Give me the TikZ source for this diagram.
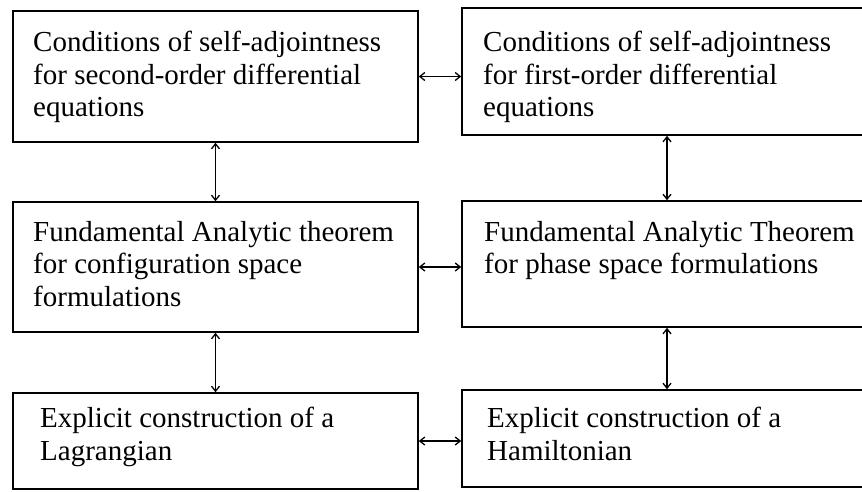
\documentclass[tikz,border=0pt]{standalone}
\usepackage{fontspec}
\setmainfont{Liberation Serif}
\usetikzlibrary{arrows.meta}

\begin{document}
\begin{tikzpicture}[x=1pt,y=-1pt,
  box/.style={draw,line width=1.6pt,inner sep=0pt},
  txt/.style={anchor=north west,inner sep=0pt,align=left,font=\fontsize{29}{32.5}\selectfont},
  link/.style={<->,line width=1.3pt,>={Straight Barb[length=5pt,width=8pt]}}]
\clip (0,0) rectangle (862,491);

% second-order / configuration space column
\node[box,minimum width=405pt,minimum height=131pt] (sa2) at (215.5,76.5) {};
\node[box,minimum width=405pt,minimum height=130pt] (fa2) at (215.5,267) {};
\node[box,minimum width=405pt,minimum height=96pt] (lag) at (215.5,441) {};

% first-order / phase space column
\node[box,minimum width=410pt,minimum height=127pt] (sa1) at (667,71.5) {};
\node[box,minimum width=410pt,minimum height=126pt] (fa1) at (667,264) {};
\node[box,minimum width=410pt,minimum height=97pt] (ham) at (667,438.5) {};

\node[txt] (sa2t) at (33,31) {Conditions of self-adjointness\\for second-order differential\\equations};
\node[txt] (sa1t) at (483,31) {Conditions of self-adjointness\\for first-order differential\\equations};
\node[txt] (fa2t) at (33,221) {Fundamental Analytic theorem\\for configuration space\\formulations};
\node[txt] (fa1t) at (484,221) {Fundamental Analytic Theorem\\for phase space formulations};
\node[txt] (lagt) at (40,407) {Explicit construction of a\\Lagrangian};
\node[txt] (hamt) at (487,407) {Explicit construction of a\\Hamiltonian};

\draw [link] (sa2.east) -- (sa2.east -| sa1.west);
\draw [link] (fa2.east) -- (fa2.east -| fa1.west);
\draw [link] (lag.east) -- (lag.east -| ham.west);
\draw [link] (sa2.south) -- (fa2.north);
\draw [link] (fa2.south) -- (lag.north);
\draw [link] (sa1.south) -- (fa1.north);
\draw [link] (fa1.south) -- (ham.north);

\end{tikzpicture}
\end{document}
